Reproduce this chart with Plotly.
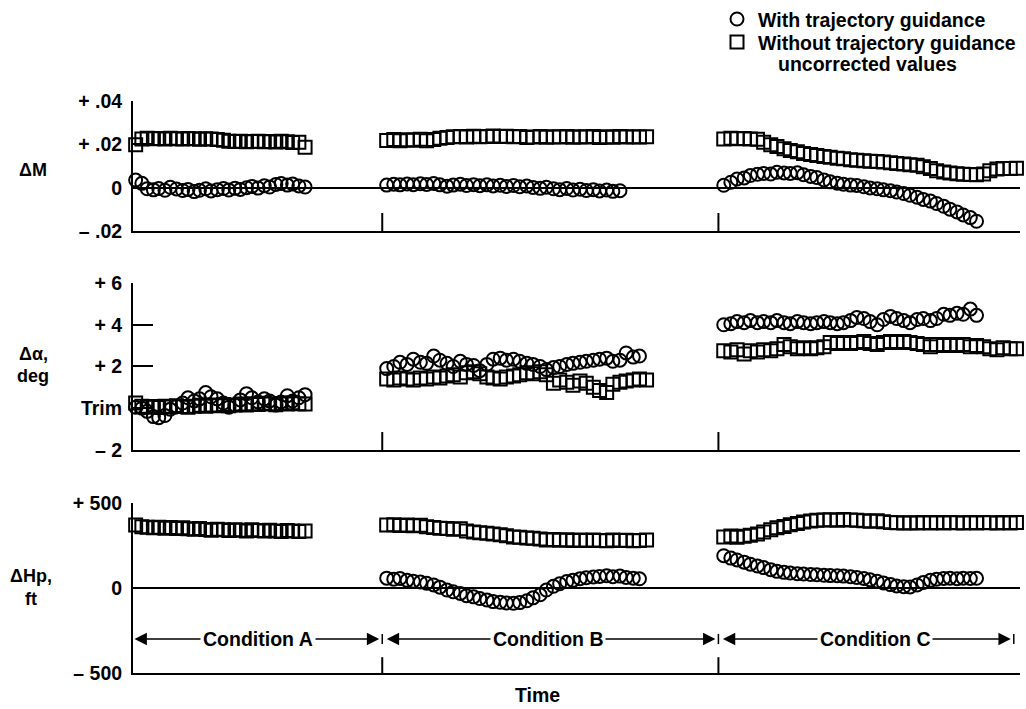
import plotly.graph_objects as go

# Sample times (arbitrary time units) within each test condition
t_cond_a = [0.3, 1.0, 1.6, 2.3, 2.9, 3.6, 4.2, 4.9, 5.6, 6.2,
            6.9, 7.5, 8.2, 8.8, 9.5, 10.2, 10.8, 11.5, 12.1, 12.8,
            13.4, 14.1, 14.8, 15.4, 16.1, 16.7, 17.4, 18.0, 18.7, 19.4]
t_cond_b = [28.6, 29.4, 30.1, 30.9, 31.6, 32.4, 33.1, 33.9, 34.6, 35.4,
            36.1, 36.9, 37.6, 38.4, 39.1, 39.9, 40.6, 41.4, 42.1, 42.9,
            43.6, 44.4, 45.1, 45.9, 46.6, 47.4, 48.1, 48.9, 49.6, 50.4,
            51.1, 51.9, 52.6, 53.4, 54.1, 54.9, 55.6, 56.4, 57.1, 57.9]
t_cond_c = [66.6, 67.4, 68.1, 68.9, 69.6, 70.4, 71.1, 71.9, 72.6, 73.4,
            74.1, 74.9, 75.6, 76.4, 77.1, 77.9, 78.6, 79.4, 80.1, 80.9,
            81.6, 82.4, 83.1, 83.9, 84.6, 85.4, 86.1, 86.9, 87.6, 88.4,
            89.1, 89.9, 90.6, 91.4, 92.1, 92.9, 93.6, 94.4, 95.1, 95.9,
            96.6, 97.4, 98.1, 98.9, 99.6]

cond_names = ["Condition A", "Condition B", "Condition C"]
cond_edges = [0.0, 28.1, 66.0, 99.3]
cond_label_t = [14.1, 46.8, 83.6]

series_names = ["With trajectory guidance", "Without trajectory guidance", "uncorrected values"]

# Mach number error, delta M
dm_with_a = [0.0035, 0.002, -0.0005, -0.001, -0.0004, -0.0012, 0.0002, -0.0006, -0.0013, -0.0008,
             -0.0018, -0.0012, -0.0005, -0.0015, -0.0009, -0.0004, -0.0011, -0.0003, -0.0008, 0.0,
             0.0006, -0.0002, 0.0009, 0.0003, 0.0015, 0.0019, 0.0012, 0.0017, 0.0008, 0.0003]
dm_without_a = [0.0198, 0.0225, 0.0228, 0.0226, 0.0227, 0.0225, 0.0228, 0.0226, 0.0225, 0.0227,
                0.0226, 0.0224, 0.0226, 0.0225, 0.0222, 0.0219, 0.0214, 0.0213, 0.0214, 0.0212,
                0.0213, 0.0214, 0.0212, 0.0213, 0.0211, 0.0214, 0.0212, 0.0208, 0.0210, 0.0186]
dm_with_b = [0.0012, 0.0016, 0.0013, 0.0017, 0.0014, 0.0018, 0.0015, 0.0019, 0.0013, 0.0007,
             0.0012, 0.0016, 0.0010, 0.0014, 0.0009, 0.0013, 0.0008, 0.0011, 0.0006, 0.0010,
             0.0004, 0.0008, 0.0001, -0.0003, 0.0002, -0.0005, -0.0009, -0.0004, -0.0011, -0.0007,
             -0.0013, -0.0009, -0.0015, -0.0011, -0.0017, -0.0014]
dm_without_b = [0.0218, 0.0222, 0.0216, 0.0221, 0.0219, 0.0223, 0.0217, 0.0222, 0.0228, 0.0232,
                0.0235, 0.0236, 0.0234, 0.0237, 0.0235, 0.0236, 0.0238, 0.0236, 0.0237, 0.0235,
                0.0236, 0.0232, 0.0234, 0.0236, 0.0233, 0.0235, 0.0234, 0.0236, 0.0233, 0.0235,
                0.0234, 0.0236, 0.0232, 0.0235, 0.0233, 0.0236, 0.0234, 0.0235, 0.0234, 0.0235]
dm_with_c = [0.0011, 0.0025, 0.0040, 0.0045, 0.0056, 0.0062, 0.0066, 0.0063, 0.0071, 0.0068,
             0.0066, 0.0069, 0.0060, 0.0052, 0.0047, 0.0036, 0.0027, 0.0021, 0.0016, 0.0012,
             0.0010, 0.0004, -0.0001, -0.0005, -0.0010, -0.0014, -0.0020, -0.0027, -0.0035, -0.0044,
             -0.0054, -0.0062, -0.0073, -0.0086, -0.0099, -0.0112, -0.0126, -0.0138, -0.0155]
dm_without_c = [0.0225, 0.0228, 0.0226, 0.0227, 0.0225, 0.0224, 0.0210, 0.0198, 0.0190, 0.0180,
                0.0172, 0.0166, 0.0158, 0.0153, 0.0149, 0.0144, 0.0140, 0.0136, 0.0133, 0.0129,
                0.0127, 0.0124, 0.0122, 0.0121, 0.0118, 0.0115, 0.0112, 0.0109, 0.0106, 0.0103,
                0.0096, 0.0088, 0.0078, 0.0072, 0.0068, 0.0064, 0.0062, 0.0061, 0.0060, 0.0063,
                0.0078, 0.0086, 0.0089, 0.0088, 0.0090]

# Angle-of-attack error relative to trim, deg
da_with_a = [0.05, 0.0, -0.15, -0.4, -0.45, -0.35, -0.05, 0.1, 0.25, 0.5,
             0.35, 0.45, 0.75, 0.55, 0.45, 0.25, 0.05, 0.15, 0.4, 0.7,
             0.5, 0.3, 0.45, 0.35, 0.15, 0.3, 0.6, 0.35, 0.5, 0.65]
da_without_a = [0.25, 0.1, 0.05, 0.08, 0.04, 0.1, 0.06, 0.12, 0.08, 0.05,
                0.1, 0.14, 0.1, 0.15, 0.12, 0.18, 0.12, 0.16, 0.2, 0.15,
                0.22, 0.18, 0.24, 0.2, 0.17, 0.23, 0.2, 0.26, 0.22, 0.2]
da_with_b = [1.9, 2.0, 2.2, 2.1, 2.35, 2.2, 2.15, 2.5, 2.3, 2.15,
             2.0, 2.25, 2.1, 2.05, 1.8, 2.1, 2.35, 2.4, 2.3, 2.35,
             2.25, 2.15, 2.1, 2.0, 1.85, 1.95, 2.0, 2.1, 2.15, 2.2,
             2.25, 2.3, 2.35, 2.4, 2.25, 2.3, 2.65, 2.45, 2.5]
da_without_b = [1.4, 1.35, 1.45, 1.4, 1.35, 1.45, 1.4, 1.5, 1.45, 1.55,
                1.6, 1.5, 1.7, 1.75, 1.65, 1.5, 1.45, 1.4, 1.5, 1.55,
                1.6, 1.7, 1.65, 1.75, 1.6, 1.2, 1.35, 1.25, 1.1, 1.3,
                1.2, 1.0, 0.85, 0.75, 1.15, 1.25, 1.3, 1.35, 1.4, 1.35]
da_with_c = [4.0, 4.05, 4.15, 4.1, 4.2, 4.1, 4.15, 4.1, 4.2, 4.1,
             4.05, 4.15, 4.1, 4.05, 4.1, 4.15, 4.1, 4.05, 4.1, 4.2,
             4.35, 4.3, 4.15, 4.0, 4.25, 4.4, 4.3, 4.2, 4.1, 4.25,
             4.3, 4.2, 4.3, 4.5, 4.45, 4.55, 4.5, 4.75, 4.45]
da_without_c = [2.75, 2.7, 2.8, 2.6, 2.75, 2.7, 2.8, 2.75, 2.85, 3.05,
                2.95, 2.85, 2.9, 2.85, 2.9, 2.95, 3.15, 3.1, 3.15, 3.1,
                3.15, 3.2, 3.1, 3.05, 3.15, 3.2, 3.15, 3.2, 3.15, 3.1,
                3.05, 2.95, 3.05, 3.0, 3.05, 3.0, 3.05, 2.95, 3.0, 2.95,
                2.85, 2.8, 2.9, 2.85, 2.85]

# Pressure altitude error, ft
dh_without_a = [370, 360, 358, 355, 357, 352, 356, 350, 354, 348,
                345, 350, 344, 340, 346, 342, 338, 343, 340, 336,
                342, 338, 335, 340, 336, 333, 338, 335, 332, 336]
dh_with_b = [58, 52, 56, 45, 40, 35, 28, 18, 5, -12,
             -22, -32, -45, -52, -62, -70, -80, -84, -88, -90,
             -86, -75, -58, -40, -12, 10, 25, 38, 45, 55,
             60, 65, 68, 72, 66, 70, 62, 58, 54]
dh_without_b = [370, 372, 368, 371, 366, 369, 360, 356, 352, 350,
                346, 348, 335, 330, 325, 322, 318, 313, 307, 300,
                298, 294, 292, 288, 283, 285, 281, 284, 280, 282,
                279, 283, 280, 278, 282, 279, 281, 278, 280, 282]
dh_with_c = [190, 176, 165, 152, 140, 130, 120, 108, 98, 92,
             88, 84, 82, 79, 78, 75, 73, 72, 70, 66,
             62, 56, 48, 40, 30, 20, 12, 8, 6, 18,
             32, 45, 52, 56, 58, 55, 58, 56, 57]
dh_without_c = [300, 306, 298, 304, 310, 318, 330, 342, 354, 362,
                372, 380, 388, 394, 398, 400, 402, 399, 403, 400,
                398, 396, 393, 395, 390, 386, 384, 382, 384, 383,
                386, 382, 385, 383, 386, 384, 382, 385, 383, 386,
                384, 382, 385, 383, 386]

FONT = "Liberation Sans, Arial, Helvetica, sans-serif"
INK = "black"
PLOT_L, PLOT_R, PLOT_T, PLOT_B = 133, 1020, 101, 673


def px_to_paper(x_px, y_px):
    return (x_px - PLOT_L) / (PLOT_R - PLOT_L), (PLOT_B - y_px) / (PLOT_B - PLOT_T)


def join(parts):
    """Concatenate per-condition segments into one marker series."""
    xs, ys = [], []
    for times, values in parts:
        xs += times[:len(values)]
        ys += values
    return xs, ys


panels = [
    dict(ax="", with_=[(t_cond_a, dm_with_a), (t_cond_b, dm_with_b), (t_cond_c, dm_with_c)],
         without=[(t_cond_a, dm_without_a), (t_cond_b, dm_without_b), (t_cond_c, dm_without_c)]),
    dict(ax="2", with_=[(t_cond_a, da_with_a), (t_cond_b, da_with_b), (t_cond_c, da_with_c)],
         without=[(t_cond_a, da_without_a), (t_cond_b, da_without_b), (t_cond_c, da_without_c)]),
    dict(ax="3", with_=[(t_cond_b, dh_with_b), (t_cond_c, dh_with_c)],
         without=[(t_cond_a, dh_without_a), (t_cond_b, dh_without_b), (t_cond_c, dh_without_c)]),
]

fig = go.Figure()
for p in panels:
    for key, name, symbol in [("with_", series_names[0], "circle-open"),
                              ("without", series_names[1] + " " + series_names[2], "square-open")]:
        xs, ys = join(p[key])
        fig.add_trace(go.Scatter(
            x=xs, y=ys, mode="markers", name=name,
            xaxis="x" + p["ax"], yaxis="y" + p["ax"],
            showlegend=False, cliponaxis=False,
            marker=dict(symbol=symbol, size=13, color=INK, line=dict(width=2, color=INK)),
        ))

tick_font = dict(family=FONT, size=19.5, color=INK, weight="bold")


def yaxis(domain, rng, vals, text, zero):
    return dict(domain=domain, range=rng, tickvals=vals, ticktext=text,
                showline=True, linewidth=2, linecolor=INK,
                ticks="inside", ticklen=20, tickwidth=2, tickcolor=INK,
                zeroline=zero, zerolinewidth=2, zerolinecolor=INK,
                showgrid=False, tickfont=tick_font, ticklabelstandoff=5,
                fixedrange=True)


def xaxis(anchor):
    return dict(domain=[0, 1], range=[0, 100], anchor=anchor,
                showline=True, linewidth=2, linecolor=INK,
                showticklabels=False, ticks="", showgrid=False, zeroline=False,
                fixedrange=True)


fig.update_layout(
    width=1026, height=709,
    margin=dict(l=PLOT_L, r=1026 - PLOT_R, t=PLOT_T, b=709 - PLOT_B),
    paper_bgcolor="white", plot_bgcolor="white",
    font=dict(family=FONT, color=INK, weight="bold"),
    xaxis=xaxis("y"), xaxis2=xaxis("y2"), xaxis3=xaxis("y3"),
    yaxis=yaxis([0.7727, 1.0], [-0.02, 0.04], [-0.02, 0, 0.02, 0.04],
                ["\u2013 .02", "0", "+ .02", "+ .04"], True),
    yaxis2=yaxis([0.3899, 0.6818], [-2, 6], [-2, 0, 2, 4, 6],
                 ["\u2013 2", "Trim", "+ 2", "+ 4", "+ 6"], False),
    yaxis3=yaxis([0.0, 0.2972], [-500, 500], [-500, 0, 500],
                 ["\u2013 500", "0", "+ 500"], True),
    showlegend=False,
)

# key: open circle / open square followed by the series descriptions
label_font = dict(family=FONT, size=19.5, color=INK, weight="bold")
for shape_type, (sx, sy) in [("circle", (737, 19)), ("rect", (737, 42))]:
    ax_, ay_ = px_to_paper(sx, sy)
    fig.add_shape(type=shape_type, xref="paper", yref="paper",
                  xsizemode="pixel", ysizemode="pixel", xanchor=ax_, yanchor=ay_,
                  x0=-6.5, x1=6.5, y0=-6.5, y1=6.5,
                  line=dict(color=INK, width=2), fillcolor="white")
for text, (tx, ty) in zip(series_names, [(756, 20), (756, 43), (776, 64)]):
    px_, py_ = px_to_paper(tx, ty)
    fig.add_annotation(x=px_, y=py_, xref="paper", yref="paper", text=text,
                       showarrow=False, xanchor="left", yanchor="middle", font=label_font)

# short marks on each panel's time axis where a new condition starts
mark_len = {"": 0.0083, "2": 0.86, "3": 93}
bottoms = {"": -0.02, "2": -2, "3": -500}
for ax in ["", "2", "3"]:
    for edge in cond_edges[1:3]:
        fig.add_shape(type="line", xref="x" + ax, yref="y" + ax,
                      x0=edge, x1=edge, y0=bottoms[ax], y1=bottoms[ax] + mark_len[ax],
                      line=dict(color=INK, width=2))

# condition spans drawn as double-headed arrows in the altitude panel
span_y = -300
for i, label in enumerate(cond_names):
    left, right = cond_edges[i], cond_edges[i + 1]
    fig.add_annotation(x=right, y=span_y, ax=left, ay=span_y,
                       xref="x3", yref="y3", axref="x3", ayref="y3",
                       text="", showarrow=True, arrowside="end+start",
                       arrowhead=2, arrowsize=1.9, arrowwidth=1.3, arrowcolor=INK,
                       standoff=3, startstandoff=3 if i else 0)
    fig.add_annotation(x=cond_label_t[i], y=span_y, xref="x3", yref="y3",
                       text=label, showarrow=False, bgcolor="white", borderpad=2,
                       font=label_font)
for edge in cond_edges[1:]:
    fig.add_shape(type="line", xref="x3", yref="y3", x0=edge, x1=edge,
                  y0=span_y - 30, y1=span_y + 30, line=dict(color=INK, width=1.5))

# axis titles
title_font = dict(family=FONT, size=18, color=INK, weight="bold")
for text, x_px, y_px in [("\u0394M", 33, 170),
                         ("\u0394\u03b1,", 33, 354), ("deg", 33, 376),
                         ("\u0394Hp,", 31, 576), ("ft", 31, 599)]:
    tx, ty = px_to_paper(x_px, y_px)
    fig.add_annotation(x=tx, y=ty, xref="paper", yref="paper",
                       text=text, showarrow=False, font=title_font,
                       xanchor="center", yanchor="middle", borderpad=0)
tx, ty = px_to_paper(537, 695)
fig.add_annotation(x=tx, y=ty, xref="paper", yref="paper",
                   text="Time", showarrow=False, font=label_font,
                   xanchor="center", yanchor="middle")

fig.write_html("out.html")
